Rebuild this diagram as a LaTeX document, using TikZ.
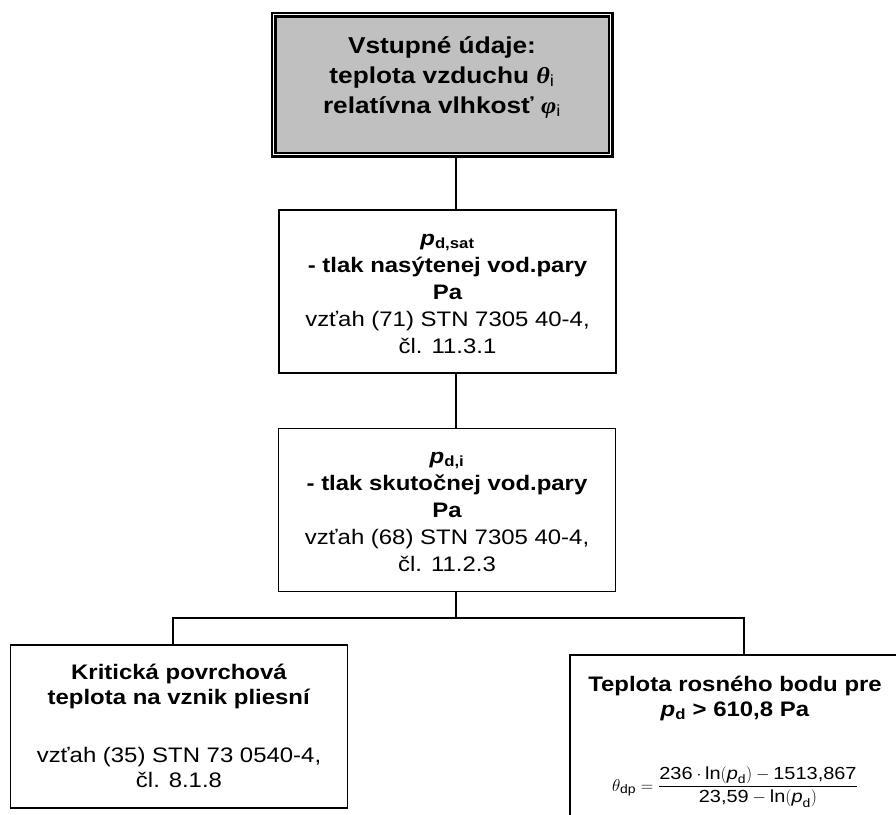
\documentclass[tikz,border=0pt]{standalone}
\usepackage{fontspec}
\usepackage{amsmath}
\setmainfont{Liberation Sans}[FakeStretch=1.14]
\newfontfamily\grecke{Liberation Serif}[FakeStretch=1.14]
\definecolor{sedapozadie}{RGB}{192,192,192}
\tikzset{
  blok/.style={draw, line width=1.8pt, align=center, inner sep=2pt,
    minimum width=337pt, minimum height=163pt,
    font=\fontsize{21}{27}\selectfont},
  vysledok/.style={blok, font=\fontsize{21}{25}\selectfont},
  vstupblok/.style={blok, fill=sedapozadie, double=white, double distance=1.6pt,
    line width=2.2pt, minimum height=140pt,
    font=\fontsize{23}{30}\selectfont\bfseries},
  spoj/.style={line width=1.8pt}
}
\begin{document}
\begin{tikzpicture}[x=1pt, y=-1pt]
        \useasboundingbox (0,0) rectangle (896,814);
        \clip (0,0) rectangle (896,814);

        % Vstupy
        \node[vstupblok, text height=62pt, text depth=5pt] (vstup) at (442, 84.5) {Vstupné údaje:\\
          teplota vzduchu {\grecke\itshape θ}\textsubscript{\mdseries i}\\
          relatívna vlhkosť {\grecke\itshape φ}\textsubscript{\mdseries i}};

        % Tlaky vodnej pary
        \node[blok, text height=124pt, text depth=1pt] (tlaksat) at (447.5, 291.5) {\textbf{\textit{p}\textsubscript{d,sat}}\\
          \textbf{- tlak nasýtenej vod.pary}\\ \textbf{Pa}\\
          vzťah (71) STN 7305 40-4,\\ čl. 11.3.1};
        \node[blok, text height=123pt, text depth=1pt] (tlaki) at (447, 510) {\textbf{\textit{p}\textsubscript{d,i}}\\
          \textbf{- tlak skutočnej vod.pary}\\ \textbf{Pa}\\
          vzťah (68) STN 7305 40-4,\\ čl. 11.2.3};

        % Vysledky
        \node[vysledok, text height=122pt, text depth=1pt] (krit) at (179, 726.5) {\textbf{Kritická povrchová}\\
          \textbf{teplota na vznik pliesní}\\[33pt]
          vzťah (35) STN 73 0540-4,\\ čl. 8.1.8};
        \node[vysledok, minimum width=330pt, text height=112pt, text depth=3pt] (rosny) at (735, 736.5) {\textbf{Teplota rosného bodu pre}\\
          \textbf{\textit{p}\textsubscript{d} > 610,8 Pa}\\[45pt]
          {\fontsize{17.5}{20}\selectfont
          $\theta_{\text{dp}} = \dfrac{\text{236}\cdot\text{ln}(\textit{p}_{\text{d}})-\text{1513,867}}{\text{23,59}-\text{ln}(\textit{p}_{\text{d}})}$}};

        % Spojenia
        \coordinate (rozv) at (456, 618);
        \draw[spoj] (vstup.south -| rozv) -- (tlaksat.north -| rozv);
        \draw[spoj] (tlaksat.south -| rozv) -- (tlaki.north -| rozv);
        \draw[spoj] (tlaki.south -| rozv) -- (rozv);
        \draw[spoj] ([xshift=-6pt]krit.north) |- (rozv) -| ([xshift=9pt]rosny.north);
    \end{tikzpicture}
\end{document}
